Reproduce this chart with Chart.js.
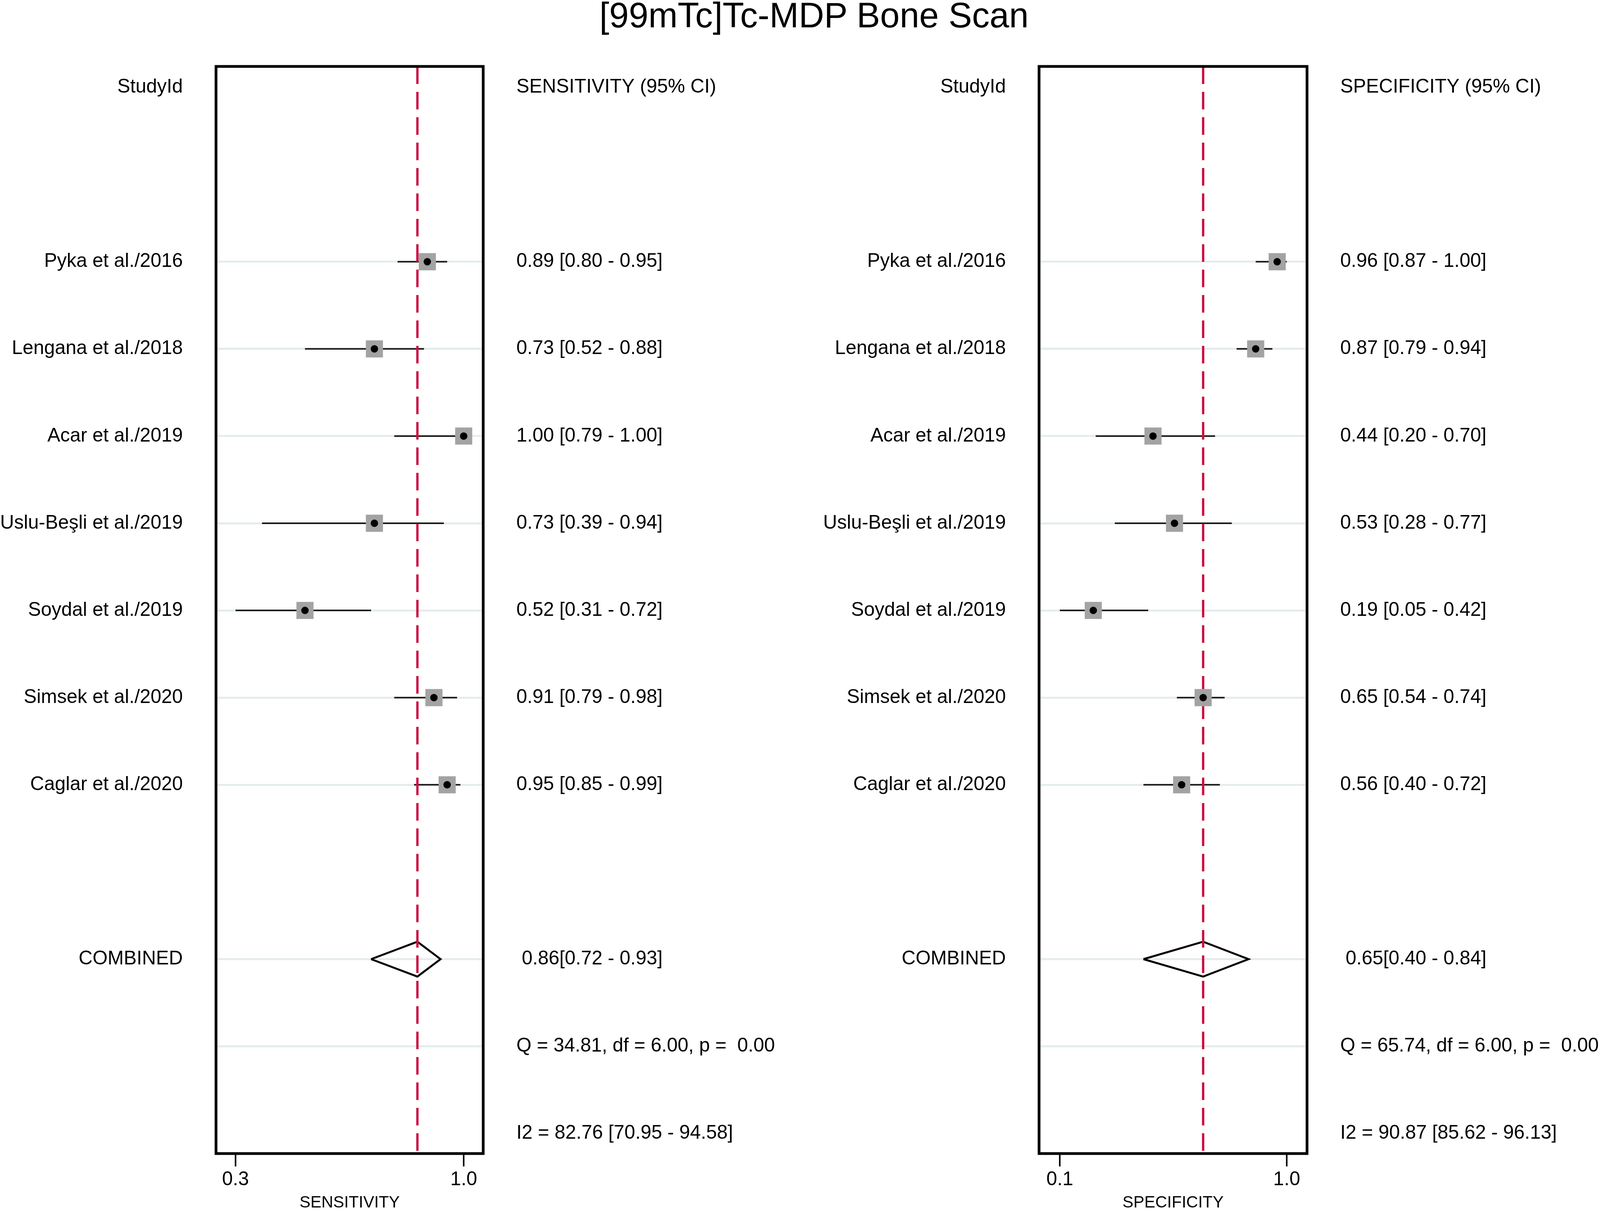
<!DOCTYPE html>
<html>
<head>
<meta charset="utf-8">
<script src="https://cdn.jsdelivr.net/npm/chart.js@4.4.1/dist/chart.umd.min.js"></script>
<style>
  html, body { margin: 0; padding: 0; background: #fff; }
  body { height: 3099px; position: relative; overflow: hidden; }
  #title { position: absolute; top: -6px; transform: translateX(-50%);
           font: 90px/90px 'Liberation Sans', Arial, sans-serif; white-space: nowrap; color: #000; }
  canvas { position: absolute; top: 0; }
</style>
</head>
<body>
<div id="title">[99mTc]Tc-MDP Bone Scan</div>
<canvas id="sens" height="3099"></canvas>
<canvas id="spec" height="3099"></canvas>
<script>
'use strict';

const studies = ['Pyka et al./2016', 'Lengana et al./2018', 'Acar et al./2019',
  'Uslu-Beşli et al./2019', 'Soydal et al./2019', 'Simsek et al./2020', 'Caglar et al./2020'];

const sensEst = [0.89, 0.73, 1.00, 0.73, 0.52, 0.91, 0.95];
const sensLo  = [0.80, 0.52, 0.79, 0.39, 0.31, 0.79, 0.85];
const sensHi  = [0.95, 0.88, 1.00, 0.94, 0.72, 0.98, 0.99];
const sensPooled = [0.86, 0.72, 0.93];
const sensStats = ['Q = 34.81, df = 6.00, p =  0.00', 'I2 = 82.76 [70.95 - 94.58]'];
const sensTicks = [0.31, 1.0];
const sensTickLabels = ['0.3', '1.0'];

const specEst = [0.96, 0.87, 0.44, 0.53, 0.19, 0.65, 0.56];
const specLo  = [0.87, 0.79, 0.20, 0.28, 0.05, 0.54, 0.40];
const specHi  = [1.00, 0.94, 0.70, 0.77, 0.42, 0.74, 0.72];
const specPooled = [0.65, 0.40, 0.84];
const specStats = ['Q = 65.74, df = 6.00, p =  0.00', 'I2 = 90.87 [85.62 - 96.13]'];
const specTicks = [0.05, 1.0];
const specTickLabels = ['0.1', '1.0'];

// row layout (0 = header, top to bottom)
const studyRows = [2, 3, 4, 5, 6, 7, 8];
const pooledRow = 10;
const statRows = [11, 12];
const gridRows = [2, 3, 4, 5, 6, 7, 8, 10, 11];
const yMin = -0.24, yMax = 12.23;

// the page is laid out for 4211px wide; squeeze horizontally if the window is narrower
const sx = Math.min(1, window.innerWidth / 4211);
const X = v => Math.round(v * sx);

document.getElementById('title').style.left = X(2142) + 'px';

Chart.defaults.font.family = "'Liberation Sans', Arial, sans-serif";
Chart.defaults.color = '#000';

const fmt = v => v.toFixed(2);

const boxPlugin = {
  id: 'box',
  afterDraw(chart) {
    const {ctx, chartArea: a} = chart;
    ctx.save();
    ctx.strokeStyle = '#000';
    ctx.lineWidth = 7;
    ctx.strokeRect(a.left, a.top, a.right - a.left, a.bottom - a.top);
    ctx.restore();
  }
};

function forest(id, p) {
  const cv = document.getElementById(id);
  cv.width = X(p.canvasRight) - X(p.canvasLeft);
  cv.style.left = X(p.canvasLeft) + 'px';

  const leftText = {0: 'StudyId'};
  const rightText = {0: p.header};
  studies.forEach((s, i) => {
    leftText[studyRows[i]] = s;
    rightText[studyRows[i]] = `${fmt(p.est[i])} [${fmt(p.lo[i])} - ${fmt(p.hi[i])}]`;
  });
  const [pe, pl, ph] = p.pooled;
  leftText[pooledRow] = 'COMBINED';
  rightText[pooledRow] = ` ${fmt(pe)}[${fmt(pl)} - ${fmt(ph)}]`;
  p.stats.forEach((t, i) => rightText[statRows[i]] = t);
  const rows = Object.keys(rightText).map(Number);

  const points = p.est.map((e, i) => ({x: e, y: studyRows[i]}));
  const ciSets = p.est.map((e, i) => ({
    data: [{x: p.lo[i], y: studyRows[i]}, {x: p.hi[i], y: studyRows[i]}],
    showLine: true, borderColor: '#1a1a1a', borderWidth: 4, pointRadius: 0, order: 3
  }));
  const diamond = [
    {x: pl, y: pooledRow}, {x: pe, y: pooledRow - 0.2}, {x: ph, y: pooledRow},
    {x: pe, y: pooledRow + 0.2}, {x: pl, y: pooledRow}
  ];

  const yAxis = (position, text, width) => ({
    type: 'linear', position, reverse: true, min: yMin, max: yMax,
    afterBuildTicks: s => { s.ticks = rows.map(v => ({value: v})); },
    afterFit: s => { s.width = width; },
    border: {display: false},
    grid: {
      display: position === 'left', drawTicks: false, lineWidth: 5,
      color: c => gridRows.includes(c.tick && c.tick.value) ? '#e4eced' : 'rgba(0,0,0,0)'
    },
    ticks: {autoSkip: false, padding: X(87), font: {size: 49.5}, callback: v => text[v] || ''}
  });

  new Chart(cv, {
    type: 'scatter',
    data: {
      datasets: [
        ...ciSets,
        {data: diamond, showLine: true, borderColor: '#000', borderWidth: 5,
         borderJoinStyle: 'miter', pointRadius: 0, order: 3},
        {data: [{x: pe, y: yMin}, {x: pe, y: yMax}], showLine: true, borderColor: '#cc1041',
         borderWidth: 6, borderDash: [45, 20], pointRadius: 0, order: 2},
        {data: points, pointStyle: 'rect', pointRadius: 31, backgroundColor: '#a3a3a3',
         borderWidth: 0, order: 1},
        {data: points, pointStyle: 'circle', pointRadius: 9.5, backgroundColor: '#000',
         borderWidth: 0, order: 0}
      ]
    },
    options: {
      responsive: false,
      animation: false,
      layout: {padding: {top: 170, bottom: 0, left: 0, right: 0}},
      plugins: {legend: {display: false}, tooltip: {enabled: false}},
      scales: {
        x: {
          type: 'linear', position: 'bottom', min: p.xMin, max: p.xMax,
          afterBuildTicks: s => { s.ticks = p.ticks.map(v => ({value: v})); },
          afterFit: s => { s.height = 147; },
          border: {display: false},
          grid: {drawOnChartArea: false, drawTicks: true, tickLength: 33, color: '#000', lineWidth: 4},
          ticks: {padding: 10, font: {size: 49.5, lineHeight: 1},
                  callback: (v, i) => p.tickLabels[i]},
          title: {display: true, text: p.axisTitle, font: {size: 42, lineHeight: 1},
                  padding: {top: 0, bottom: 0}}
        },
        y: yAxis('left', leftText, X(p.boxLeft) - X(p.canvasLeft)),
        yr: yAxis('right', rightText, X(p.canvasRight) - X(p.boxRight))
      }
    },
    plugins: [boxPlugin]
  });
}

forest('sens', {
  header: 'SENSITIVITY (95% CI)', axisTitle: 'SENSITIVITY',
  est: sensEst, lo: sensLo, hi: sensHi, pooled: sensPooled, stats: sensStats,
  ticks: sensTicks, tickLabels: sensTickLabels,
  xMin: 0.251, xMax: 1.059,
  canvasLeft: 0, boxLeft: 569, boxRight: 1272, canvasRight: 2300
});

forest('spec', {
  header: 'SPECIFICITY (95% CI)', axisTitle: 'SPECIFICITY',
  est: specEst, lo: specLo, hi: specHi, pooled: specPooled, stats: specStats,
  ticks: specTicks, tickLabels: specTickLabels,
  xMin: -0.037, xMax: 1.085,
  canvasLeft: 2000, boxLeft: 2735, boxRight: 3440, canvasRight: 4211
});
</script>
</body>
</html>
